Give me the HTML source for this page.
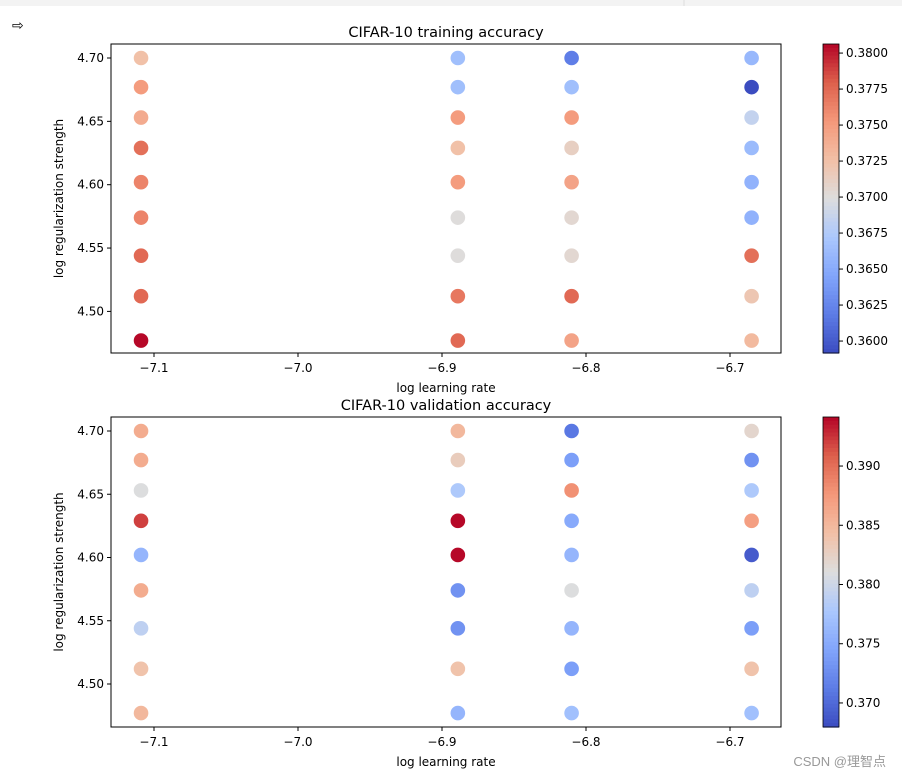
<!DOCTYPE html>
<html><head><meta charset="utf-8"><style>
body{margin:0;background:#fff;width:902px;height:779px;overflow:hidden;font-family:"Liberation Sans","DejaVu Sans",sans-serif}
svg text{font-family:"DejaVu Sans","Liberation Sans",sans-serif;fill:#000}
</style></head><body>
<svg id="s" width="902" height="779">
<rect x="0" y="0" width="902" height="6" fill="#f3f3f3"/>
<line x1="684" y1="0" x2="684" y2="6" stroke="#ddd"/>
<text x="12" y="30" font-size="14">⇨</text>
<text x="886" y="766" font-size="13" text-anchor="end" style="fill:#999;font-family:'Liberation Sans','Noto Sans CJK SC',sans-serif">CSDN @理智点</text>
</svg>
<script>
const xCats=[-7.109,-6.889,-6.810,-6.685];
const yCats=[4.700,4.677,4.653,4.629,4.602,4.574,4.544,4.512,4.477];
// train accuracy, by column then row (top to bottom)
const trainAcc=[
 [0.3725,0.3750,0.3740,0.3772,0.3762,0.3762,0.3775,0.3775,0.3805],
 [0.3665,0.3665,0.3750,0.3725,0.3750,0.3700,0.3700,0.3768,0.3775],
 [0.3620,0.3665,0.3750,0.3712,0.3745,0.3705,0.3705,0.3775,0.3745],
 [0.3660,0.3590,0.3685,0.3662,0.3655,0.3655,0.3772,0.3720,0.3730]];
const valAcc=[
 [0.386,0.386,0.381,0.392,0.376,0.386,0.379,0.384,0.385],
 [0.385,0.383,0.378,0.394,0.394,0.373,0.373,0.384,0.376],
 [0.371,0.374,0.388,0.375,0.376,0.381,0.376,0.374,0.377],
 [0.382,0.373,0.378,0.387,0.369,0.379,0.374,0.384,0.377]];
const xTicks=[-7.1,-7.0,-6.9,-6.8,-6.7];
const xTickLabels=["−7.1","−7.0","−6.9","−6.8","−6.7"];
const yTicks=[4.50,4.55,4.60,4.65,4.70];
const yTickLabels=["4.50","4.55","4.60","4.65","4.70"];
const cbTicksTrain=[0.3600,0.3625,0.3650,0.3675,0.3700,0.3725,0.3750,0.3775,0.3800];
const cbTicksVal=[0.370,0.375,0.380,0.385,0.390];

const NS="http://www.w3.org/2000/svg";
const svg=document.getElementById('s');
function mk(t,a,p){const e=document.createElementNS(NS,t);for(const k in a)e.setAttribute(k,a[k]);(p||svg).appendChild(e);return e;}
const stops=[[0,[59,76,192]],[0.125,[93,124,230]],[0.25,[130,165,251]],[0.375,[171,200,253]],[0.5,[221,221,221]],[0.625,[242,192,166]],[0.75,[244,152,122]],[0.875,[221,96,76]],[1,[180,4,38]]];
function cmap(t){t=Math.max(0,Math.min(1,t));for(let i=1;i<stops.length;i++){if(t<=stops[i][0]){const a=stops[i-1],b=stops[i],f=(t-a[0])/(b[0]-a[0]);return 'rgb('+a[1].map((v,j)=>Math.round(v+(b[1][j]-v)*f)).join(',')+')';}}return 'rgb(180,4,38)';}

function panel(o){
 const xS=v=>154+(v+7.1)*1440;
 const yS=v=>o.y470+(4.70-v)*o.ppu;
 const cS=v=>o.cbTop+(o.cmax-v)/(o.cmax-o.cmin)*(o.cbBot-o.cbTop);
 const g=mk('g',{});
 
 
 mk('rect',{x:111,y:o.top,width:670,height:o.bot-o.top,fill:'none',stroke:'#000','stroke-width':1},g);
 const t=mk('text',{x:446,y:o.top-7,'font-size':14.5,'text-anchor':'middle'},g);t.textContent=o.title;
 
 xTicks.forEach((v,i)=>{const x=xS(v);mk('line',{x1:x,x2:x,y1:o.bot,y2:o.bot+4,stroke:'#000'},g);
  const l=mk('text',{x:x,y:o.bot+19,'font-size':12,'text-anchor':'middle'},g);l.textContent=xTickLabels[i];
  });
 yTicks.forEach((v,i)=>{const y=yS(v);mk('line',{x1:107,x2:111,y1:y,y2:y,stroke:'#000'},g);
  const l=mk('text',{x:104,y:y+4,'font-size':12,'text-anchor':'end'},g);l.textContent=yTickLabels[i];
  });
 const xl=mk('text',{x:446,y:o.bot+39,'font-size':12,'text-anchor':'middle'},g);xl.textContent='log learning rate';
 
 const yc=(o.top+o.bot)/2;
 const yl=mk('text',{x:63,y:yc,'font-size':12,'text-anchor':'middle',transform:'rotate(-90 63 '+yc+')'},g);yl.textContent='log regularization strength';
 
 o.data.forEach((col,i)=>col.forEach((v,j)=>{
  const c=mk('circle',{cx:xS(xCats[i]),cy:yS(yCats[j]),r:7.3,fill:cmap((v-o.cmin)/(o.cmax-o.cmin))},g);
  }));
 const n=80,h=(o.cbBot-o.cbTop)/n;
 for(let k=0;k<n;k++){mk('rect',{x:823,y:o.cbTop+k*h,width:16,height:h+0.6,fill:cmap(1-(k+0.5)/n)},g);}
 const cb=mk('rect',{x:823,y:o.cbTop,width:16,height:o.cbBot-o.cbTop,fill:'none',stroke:'#000','stroke-width':0.8},g);
 
 o.cbTicks.forEach(v=>{const y=cS(v);mk('line',{x1:839,x2:843,y1:y,y2:y,stroke:'#000'},g);
  const l=mk('text',{x:846,y:y+4,'font-size':12},g);l.textContent=v.toFixed(o.dec);
  });
}
panel({name:'training-accuracy-chart',title:'CIFAR-10 training accuracy',top:44,bot:353,y470:58,ppu:1267,data:trainAcc,cmin:0.35917,cmax:0.38063,cbTop:44,cbBot:353,cbTicks:cbTicksTrain,dec:4});
panel({name:'validation-accuracy-chart',title:'CIFAR-10 validation accuracy',top:417,bot:727,y470:431,ppu:1265,data:valAcc,cmin:0.36797,cmax:0.39414,cbTop:417,cbBot:727,cbTicks:cbTicksVal,dec:3});
</script>
</body></html>
